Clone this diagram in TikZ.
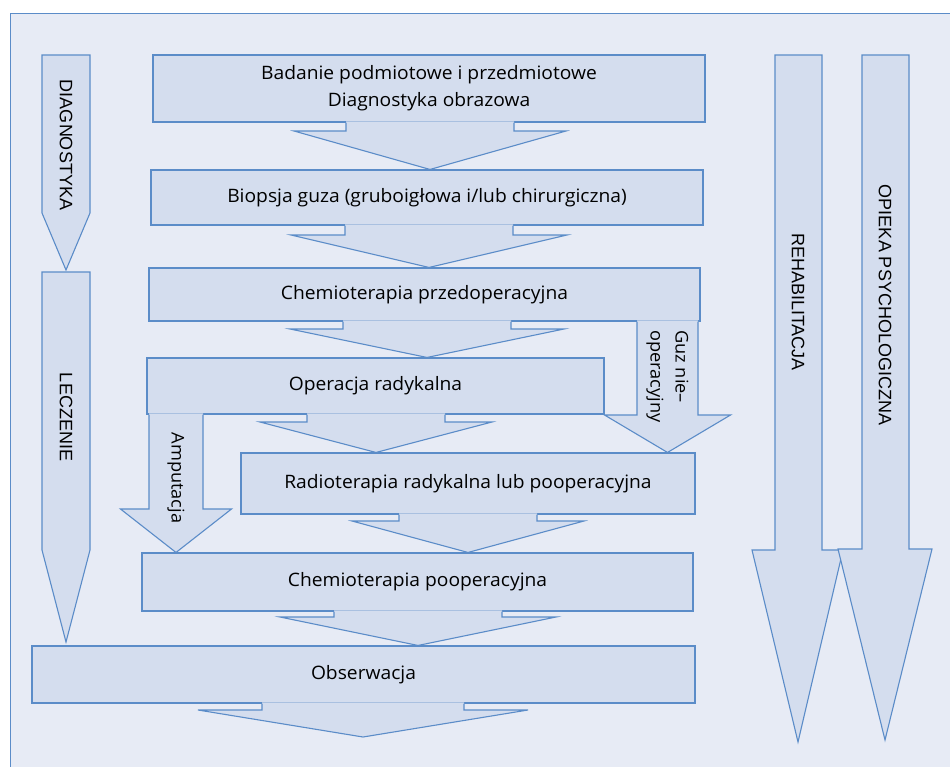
\documentclass[tikz,border=0pt]{standalone}
\usepackage{fontspec}
\setmainfont{Open Sans}[FakeStretch=1.04]
\newfontfamily\sidefont{Liberation Sans}
\usetikzlibrary{calc}
\definecolor{bgc}{HTML}{E7EBF5}
\definecolor{fillc}{HTML}{D4DDEE}
\definecolor{linec}{HTML}{5B8CC8}
\tikzset{
  box/.style={draw=linec, fill=fillc, line width=1.1pt, rectangle, inner sep=0pt,
    align=center, text=black, font=\fontsize{18.5}{27}\selectfont},
  arrline/.style={draw=linec, line width=1.1pt, line join=miter},
  sideshape/.style={draw=linec, fill=fillc, line width=1.1pt, line join=miter},
  sidelabel/.style={font=\sidefont\fontsize{18}{20}\selectfont, rotate=-90, inner sep=0pt},
  branchlabel/.style={font=\fontsize{17.5}{25}\selectfont, rotate=-90, align=left, inner sep=0pt},
}
% #1 source node, #2 target point, #3 centre x, #4 shaft half width, #5 head half width, #6 shaft bottom y
\newcommand\flowarr[6]{%
  \fill[fillc] let \p1=(#1.south), \p2=(#2) in
    (#3pt-#4pt,\y1+1.2pt) -- (#3pt-#4pt,-#6pt) -- (#3pt-#5pt,-#6pt) -- (#3pt,\y2)
    -- (#3pt+#5pt,-#6pt) -- (#3pt+#4pt,-#6pt) -- (#3pt+#4pt,\y1+1.2pt) -- cycle;
  \draw[arrline] let \p1=(#1.south), \p2=(#2) in
    (#3pt-#4pt,\y1) -- (#3pt-#4pt,-#6pt) -- (#3pt-#5pt,-#6pt) -- (#3pt,\y2)
    -- (#3pt+#5pt,-#6pt) -- (#3pt+#4pt,-#6pt) -- (#3pt+#4pt,\y1);
}
\begin{document}
\begin{tikzpicture}[x=1pt,y=-1pt]
\useasboundingbox (0,0) rectangle (950,766);
% frame
\draw[draw=linec, fill=bgc, line width=0.9pt] (10,13) rectangle (955,772);

% side arrows
\draw[sideshape] (42,55) -- (42,213) -- (66,270) -- (90,213) -- (90,55) -- cycle;
\node[sidelabel] (diag) at (66,145) {DIAGNOSTYKA};
\draw[sideshape] (42,272) -- (42,550) -- (66,642) -- (90,550) -- (90,272) -- cycle;
\node[sidelabel] (lecz) at (66,417) {LECZENIE};
\draw[sideshape] (775,55) -- (775,550) -- (752,550) -- (798,742) -- (843,550) -- (822,550) -- (822,55) -- cycle;
\node[sidelabel] (rehab) at (798,302) {REHABILITACJA};
\draw[sideshape] (862,55) -- (862,549) -- (838,549) -- (885,740) -- (932,549) -- (909,549) -- (909,55) -- cycle;
\node[sidelabel] (opieka) at (885,305) {OPIEKA PSYCHOLOGICZNA};

% boxes
\node[box, minimum width=552pt, minimum height=67pt] (b1) at (429,88.5) {Badanie podmiotowe i przedmiotowe\\Diagnostyka obrazowa};
\node[box, minimum width=552pt, minimum height=55pt] (b2) at (427,197.5) {Biopsja guza (gruboigłowa i/lub chirurgiczna)};
\node[box, minimum width=551pt, minimum height=53pt] (b3) at (424.5,294.5) {Chemioterapia przedoperacyjna};
\node[box, minimum width=457pt, minimum height=56pt] (b4) at (375.5,386) {Operacja radykalna};
\node[box, minimum width=454pt, minimum height=61pt] (b5) at (468,483.5) {Radioterapia radykalna lub pooperacyjna};
\node[box, minimum width=551pt, minimum height=58pt] (b6) at (417.5,582) {Chemioterapia pooperacyjna};
\node[box, minimum width=663pt, minimum height=57pt] (b7) at (363.5,674.5) {Obserwacja};
\coordinate (endpt) at (363,737);

% connectors
\flowarr{b1}{b2.north}{430}{84}{136}{131}
\flowarr{b2}{b3.north}{429}{84}{138}{235}
\flowarr{b3}{b4.north}{427}{84}{137}{329}
\flowarr{b4}{b5.north}{376}{69}{116}{422}
\flowarr{b5}{b6.north}{468}{69}{116}{521}
\flowarr{b6}{b7.north}{418}{84}{138}{617}
\flowarr{b7}{endpt}{363}{101}{165}{710}
% branches
\flowarr{b3}{b5.north}{667.5}{30.5}{63}{415}
\flowarr{b4}{b6.north}{176}{27}{55.5}{509}
\node[branchlabel, anchor=west] (guz) at (667.5,330) {Guz nie–\\operacyjny};
\node[branchlabel] (amp) at (176,478) {Amputacja};
\end{tikzpicture}
\end{document}
